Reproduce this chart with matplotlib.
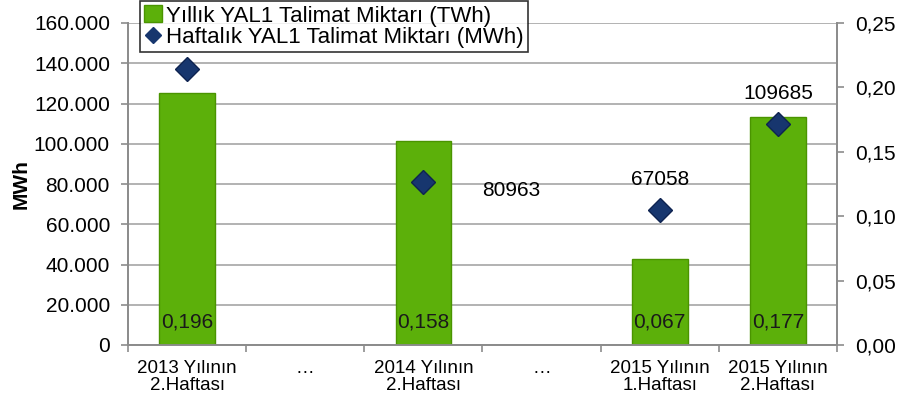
import numpy as np
import matplotlib
matplotlib.use("Agg")
from matplotlib import pyplot as plt
from matplotlib.lines import Line2D
from matplotlib.patches import Patch
from matplotlib.ticker import FuncFormatter, MultipleLocator

plt.rcParams['font.family'] = ['Liberation Sans', 'DejaVu Sans']

categories = ["2013 Yılının\n2.Haftası", "…", "2014 Yılının\n2.Haftası", "…",
              "2015 Yılının\n1.Haftası", "2015 Yılının\n2.Haftası"]
yearlyTWh = [0.196, np.nan, 0.158, np.nan, 0.067, 0.177]
weeklyMWh = [137000, np.nan, 80963, np.nan, 67058, 109685]
weeklyLabels = [None, None, "80963", None, "67058", "109685"]
barLabels = ["0,196", None, "0,158", None, "0,067", "0,177"]

green = '#5CB00A'
navy = '#17366E'
gray = '#8C8C8C'
fs = 15

fig = plt.figure(figsize=(8.98, 4.03), dpi=100)
ax = fig.add_axes([128 / 898, 1 - 345 / 403, (837 - 128) / 898, (345 - 23) / 403])
ax2 = ax.twinx()

x = np.arange(len(categories))

# bars on right axis (TWh)
ax2.bar(x, yearlyTWh, width=0.47, color=green, edgecolor='#4A9400', linewidth=1, zorder=2)
for xi, lab in zip(x, barLabels):
    if lab:
        ax2.annotate(lab, (xi, 0), xytext=(0, 16.5), textcoords='offset points',
                     ha='center', va='center', fontsize=fs, color='#1a1a1a', zorder=5)

# diamonds belong to the left axis (MWh); plotted on ax2 after rescaling so they sit above bars
scale = 0.25 / 160000
ax2.plot(x, np.array(weeklyMWh) * scale, linestyle='none', marker='D', markersize=12,
         color=navy, markeredgecolor='#0E2350', zorder=4)
for xi, v, lab in zip(x, weeklyMWh, weeklyLabels):
    if lab is None:
        continue
    if lab == "80963":
        ax2.annotate(lab, (xi, v * scale), xytext=(63, -6), textcoords='offset points',
                     ha='center', va='center', fontsize=fs, zorder=5)
    else:
        ax2.annotate(lab, (xi, v * scale), xytext=(0, 22), textcoords='offset points',
                     ha='center', va='center', fontsize=fs, zorder=5)

ax.set_xlim(-0.5, len(categories) - 0.5)
ax.set_ylim(0, 160000)
ax2.set_ylim(0, 0.25)
ax.yaxis.set_major_locator(MultipleLocator(20000))
ax2.yaxis.set_major_locator(MultipleLocator(0.05))
ax.yaxis.set_major_formatter(FuncFormatter(lambda v, p: f"{int(v):,}".replace(',', '.')))
ax2.yaxis.set_major_formatter(FuncFormatter(lambda v, p: f"{v:.2f}".replace('.', ',')))

ax.set_xticks(x)
ax.set_xticklabels(categories, fontsize=13.5, linespacing=0.95)
ax.set_xticks(np.arange(-0.5, len(categories)), minor=True)
ax.tick_params(axis='x', which='major', length=0, pad=11)
ax.tick_params(axis='x', which='minor', length=5, color=gray, width=1.2)
ax.tick_params(axis='y', labelsize=fs, length=5, color=gray, width=1.2, pad=8)
ax2.tick_params(axis='y', labelsize=fs, length=5, color=gray, width=1.2, pad=8)

ax.grid(axis='y', color='#A6A6A6', linewidth=1.2, zorder=0)
ax.set_axisbelow(True)
for a in (ax, ax2):
    a.spines['top'].set_visible(False)
    for s in ('left', 'right', 'bottom'):
        a.spines[s].set_color(gray)
        a.spines[s].set_linewidth(1.3)

ax.set_ylabel('MWh', fontsize=fs, fontweight='bold', labelpad=2)

handles = [Patch(facecolor=green, edgecolor='#4A9400'),
           Line2D([], [], linestyle='none', marker='D', markersize=8, color=navy)]
labels = ['Yıllık YAL1 Talimat Miktarı (TWh)', 'Haftalık YAL1 Talimat Miktarı (MWh)']
leg = fig.legend(handles, labels, loc='upper left', bbox_to_anchor=(140 / 898, 1 - 1 / 403),
                 fontsize=16, frameon=True, fancybox=False, edgecolor='black',
                 handlelength=0.8, handleheight=0.8, handletextpad=0.15, borderpad=0.2,
                 labelspacing=0.0, borderaxespad=0)
leg.get_frame().set_linewidth(1.2)

fig.savefig('out.png', dpi=100)
